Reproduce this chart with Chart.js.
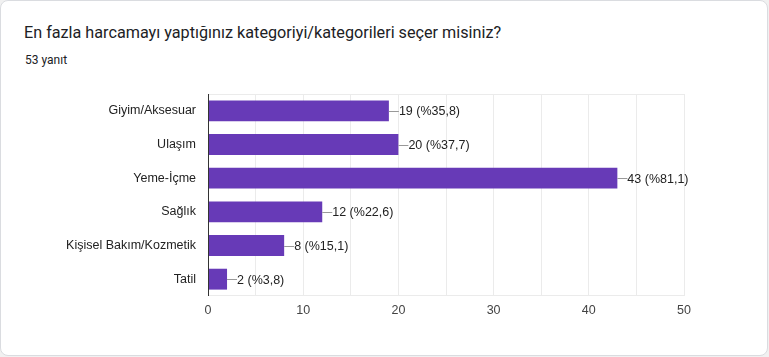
<!DOCTYPE html>
<html><head><meta charset="utf-8">
<script src="https://cdn.jsdelivr.net/npm/chart.js@4"></script>
<style>
html,body{margin:0;padding:0;background:#f1f1f1;}
#card{position:absolute;left:0;top:0;width:766px;height:354px;background:#fff;border:1px solid #dadce0;border-radius:8px;}
#title{position:absolute;left:24px;top:23px;font-family:Roboto,Arial,sans-serif;font-size:16.2px;color:#202124;white-space:nowrap;}
#sub{position:absolute;left:25px;top:53px;font-family:Roboto,Arial,sans-serif;font-size:12px;color:#202124;}
#wrap{position:absolute;left:0;top:0;width:769px;height:357px;}
</style></head>
<body>
<div id="card"></div>
<div id="title">En fazla harcamayı yaptığınız kategoriyi/kategorileri seçer misiniz?</div>
<div id="sub">53 yanıt</div>
<div id="wrap"><canvas id="c"></canvas></div>
<script>
const categories = ["Giyim/Aksesuar","Ulaşım","Yeme-İçme","Sağlık","Kişisel Bakım/Kozmetik","Tatil"];
const counts = [19,20,43,12,8,2];
const percents = ["35,8","37,7","81,1","22,6","15,1","3,8"];
const xTicks = [0,10,20,30,40,50];
const FONT = '"Liberation Sans", Arial, sans-serif';

const frame = {
  id:'frame',
  beforeDatasetsDraw(chart){
    const {ctx, chartArea:a} = chart;
    ctx.save();
    ctx.strokeStyle='#ebebeb';ctx.lineWidth=1;
    ctx.beginPath();
    ctx.moveTo(a.left,a.top+0.5);ctx.lineTo(a.right,a.top+0.5);
    ctx.moveTo(a.left,a.bottom-0.5);ctx.lineTo(a.right,a.bottom-0.5);
    ctx.stroke();
    ctx.restore();
  },
  afterDatasetsDraw(chart){
    const {ctx, chartArea:a} = chart;
    const xs = chart.scales.x;
    ctx.save();
    const x0 = Math.round(xs.getPixelForValue(0))+0.5;
    ctx.strokeStyle='#333';ctx.lineWidth=1;
    ctx.beginPath();ctx.moveTo(x0,a.top);ctx.lineTo(x0,a.bottom);ctx.stroke();
    const meta = chart.getDatasetMeta(0);
    ctx.font='12.5px ' + FONT;
    ctx.textBaseline='middle';ctx.textAlign='left';
    meta.data.forEach((bar,i)=>{
      const xe = bar.x, y = Math.round(bar.y)+0.5;
      ctx.strokeStyle='#999';
      ctx.beginPath();ctx.moveTo(xe,y);ctx.lineTo(xe+10,y);ctx.stroke();
      ctx.fillStyle='#222';
      ctx.fillText(counts[i]+' (%'+percents[i]+')', xe+10, bar.y+1);
    });
    ctx.restore();
  }
};

new Chart(document.getElementById('c'),{
  type:'bar',
  data:{labels:categories,datasets:[{data:counts,backgroundColor:'#673ab7',barPercentage:0.62,categoryPercentage:1}]},
  options:{
    indexAxis:'y',responsive:true,maintainAspectRatio:false,animation:false,
    layout:{padding:{top:94,right:85,bottom:0,left:0}},
    plugins:{legend:{display:false},tooltip:{enabled:false}},
    scales:{
      x:{min:0,max:50,
        afterFit(s){s.height=61;},
        grid:{color:'#ebebeb',drawTicks:false,lineWidth:1},
        border:{display:false},
        ticks:{stepSize:5,padding:7,color:'#444',font:{family:FONT,size:12.5},
          callback:(v)=> xTicks.includes(v)? String(v):''}
      },
      y:{
        afterFit(s){s.width=208;},
        grid:{display:false,drawTicks:false},
        border:{display:false},
        ticks:{padding:12,color:'#222',font:{family:FONT,size:12.5}}
      }
    }
  },
  plugins:[frame]
});
</script>
</body></html>
